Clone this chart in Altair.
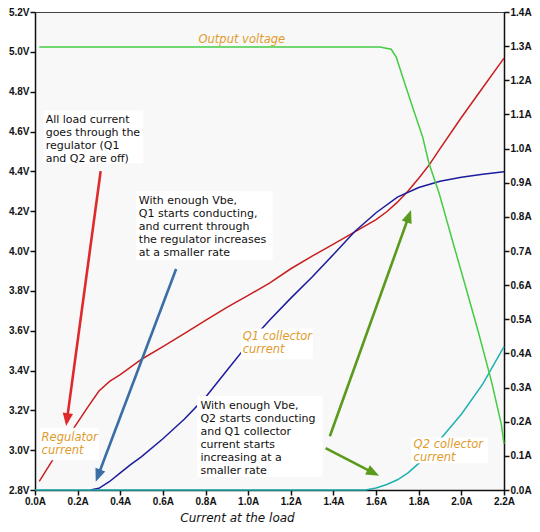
import math
import altair as alt
import pandas as pd

# ---------------- data ----------------
# Output voltage (left axis, V)
vout_load = [0.02, 1.617, 1.671, 1.695, 1.725, 1.771, 1.818, 1.848, 1.895, 1.956, 2.018, 2.079, 2.141, 2.187, 2.2]
vout_volt = [5.024, 5.024, 5.013, 4.972, 4.872, 4.723, 4.574, 4.441, 4.292, 4.06, 3.828, 3.596, 3.347, 3.132, 3.032]

# Regulator current (right axis, A)
reg_load = [0.02, 0.1, 0.185, 0.25, 0.3, 0.35, 0.4, 0.5, 0.6, 0.7, 0.8, 0.9, 1.0, 1.1, 1.2, 1.3, 1.4, 1.5,
            1.6, 1.65, 1.7, 1.75, 1.8, 1.85, 1.9, 2.0, 2.1, 2.2]
reg_amp = [0.025, 0.105, 0.184, 0.245, 0.29, 0.318, 0.338, 0.383, 0.42, 0.458, 0.497, 0.535, 0.57, 0.606,
           0.648, 0.685, 0.72, 0.756, 0.792, 0.815, 0.843, 0.876, 0.913, 0.953, 1.0, 1.091, 1.178, 1.265]

# Q1 collector current (right axis, A)
q1_load = [0.26, 0.3, 0.35, 0.4, 0.45, 0.5, 0.6, 0.7, 0.8, 0.9, 1.0, 1.1, 1.2, 1.3, 1.4, 1.5, 1.6, 1.7,
           1.8, 1.9, 2.0, 2.1, 2.2]
q1_amp = [0.0, 0.005, 0.025, 0.05, 0.075, 0.098, 0.15, 0.207, 0.272, 0.35, 0.428, 0.497, 0.562, 0.624,
          0.69, 0.757, 0.812, 0.858, 0.886, 0.904, 0.916, 0.925, 0.932]

# Q2 collector current (right axis, A)
q2_load = [0.0, 1.55, 1.6, 1.65, 1.7, 1.75, 1.8, 1.85, 1.9, 2.0, 2.1, 2.2]
q2_amp = [0.0, 0.0, 0.006, 0.016, 0.03, 0.05, 0.078, 0.112, 0.148, 0.222, 0.31, 0.42]

series_names = ["Regulator current", "Q1 collector current", "Q2 collector current"]
series_colors = ["#c81e1e", "#1c1c9c", "#1fb0b0"]

x_ticks = [0.0, 0.2, 0.4, 0.6, 0.8, 1.0, 1.2, 1.4, 1.6, 1.8, 2.0, 2.2]
v_ticks = [2.8, 3.0, 3.2, 3.4, 3.6, 3.8, 4.0, 4.2, 4.4, 4.6, 4.8, 5.0, 5.2]
a_ticks = [0.0, 0.1, 0.2, 0.3, 0.4, 0.5, 0.6, 0.7, 0.8, 0.9, 1.0, 1.1, 1.2, 1.3, 1.4]

# annotation text blocks (positions in data units: A, V)
note_text = [
    "All load current\ngoes through the\nregulator (Q1\nand Q2 are off)",
    "With enough Vbe,\nQ1 starts conducting,\nand current through\nthe regulator increases\nat a smaller rate",
    "With enough Vbe,\nQ2 starts conducting\nand Q1 collector\ncurrent starts\nincreasing at a\nsmaller rate",
]
note_x = [0.050, 0.487, 0.776]
note_v = [4.690, 4.283, 3.252]
note_box_x1 = [0.040, 0.474, 0.760]
note_box_x2 = [0.508, 1.115, 1.349]
note_box_v1 = [4.705, 4.300, 3.272]
note_box_v2 = [4.441, 3.954, 2.865]

label_text = ["Output voltage", "Regulator\ncurrent", "Q1 collector\ncurrent", "Q2 collector\ncurrent"]
label_x = [0.767, 0.031, 0.974, 1.776]
label_v = [5.091, 3.090, 3.599, 3.054]
label_box_x1 = [0.023, 0.966, 1.765]
label_box_x2 = [0.300, 1.303, 2.126]
label_box_v1 = [3.113, 3.611, 3.064]
label_box_v2 = [2.949, 3.456, 2.934]

# arrows: tail -> tip (A, V)
arrow_tail_x = [0.308, 0.662, 1.383, 1.363]
arrow_tail_v = [4.401, 3.910, 3.070, 3.010]
arrow_tip_x = [0.146, 0.285, 1.764, 1.614]
arrow_tip_v = [3.121, 2.841, 4.206, 2.871]
arrow_color = ["#de2a2a", "#3a6ea5", "#5a9a1c", "#5a9a1c"]

# ---------------- layout ----------------
W, H = 469, 478
HEAD = 13.0
SX = W / 2.2
SY = H / 2.4

x_scale = alt.Scale(domain=[0, 2.2], nice=False, zero=False)
v_scale = alt.Scale(domain=[2.8, 5.2], nice=False, zero=False)
a_scale = alt.Scale(domain=[0, 1.4], nice=False, zero=False)

# ---------------- tables ----------------
rows = []
for name, xs, ys in zip(series_names, [reg_load, q1_load, q2_load], [reg_amp, q1_amp, q2_amp]):
    for i, (a, b) in enumerate(zip(xs, ys)):
        rows.append({"load": a, "amp": b, "series": name, "idx": i})
curr_df = pd.DataFrame(rows)

volt_df = pd.DataFrame({"load": vout_load, "volt": vout_volt})

box_df = pd.DataFrame({
    "load": note_box_x1 + label_box_x1,
    "x2": note_box_x2 + label_box_x2,
    "volt": note_box_v1 + label_box_v1,
    "v2": note_box_v2 + label_box_v2,
})

note_df = pd.DataFrame({"load": note_x, "volt": note_v, "t": note_text})
label_df = pd.DataFrame({"load": label_x, "volt": label_v, "t": label_text})

arows = []
for tx, tv, px, pv, c in zip(arrow_tail_x, arrow_tail_v, arrow_tip_x, arrow_tip_v, arrow_color):
    dx = (px - tx) * SX
    dy = -(pv - tv) * SY
    L = math.hypot(dx, dy)
    ang = math.degrees(math.atan2(dx, -dy)) % 360
    f = (L - HEAD * 0.7) / L
    arows.append({"load": tx, "volt": tv, "ex": tx + (px - tx) * f, "ev": tv + (pv - tv) * f,
                  "px": px, "pv": pv, "ang": ang, "c": c})
arrow_df = pd.DataFrame(arows)

# ---------------- axes ----------------
LBL = "format(datum.value, '.1f') + '{}'"
x_axis = alt.Axis(values=x_ticks, labelExpr=LBL.format("A"),
                  title="Current at the load", titleFontStyle="italic", titleFontWeight="normal",
                  titleFontSize=12, titleFont="DejaVu Sans", titleX=202, titleY=22,
                  titleBaseline="top", titleAlign="center")
v_axis = alt.Axis(orient="left", values=v_ticks, title=None, labelExpr=LBL.format("V"))
a_axis = alt.Axis(orient="right", values=a_ticks, title=None, labelExpr=LBL.format("A"))

X = alt.X("load:Q", scale=x_scale, axis=x_axis)
YV = alt.Y("volt:Q", scale=v_scale, axis=v_axis)

# ---------------- charts ----------------
currents = alt.Chart(curr_df).mark_line(strokeWidth=1.5).encode(
    x=X,
    y=alt.Y("amp:Q", scale=a_scale, axis=a_axis),
    color=alt.Color("series:N", scale=alt.Scale(domain=series_names, range=series_colors), legend=None),
    order="idx:Q",
)

volt = alt.Chart(volt_df).mark_line(strokeWidth=1.5, color="#44cc44").encode(x=X, y=YV)

boxes = alt.Chart(box_df).mark_rect(fill="white").encode(x=X, x2="x2:Q", y=YV, y2="v2:Q")

arrow_lines = alt.Chart(arrow_df).mark_rule(strokeWidth=2.6).encode(
    x=X, x2="ex:Q", y=YV, y2="ev:Q",
    color=alt.Color("c:N", scale=None),
)

arrow_heads = alt.Chart(arrow_df).mark_point(
    shape="M0,0 L0.4,1 L-0.4,1 Z", filled=True, opacity=1, size=(2 * HEAD) ** 2, strokeWidth=0
).encode(
    x=alt.X("px:Q", scale=x_scale, axis=x_axis),
    y=alt.Y("pv:Q", scale=v_scale, axis=v_axis),
    angle=alt.Angle("ang:Q", scale=None),
    color=alt.Color("c:N", scale=None),
)

notes = alt.Chart(note_df).mark_text(
    align="left", baseline="top", lineBreak="\n", fontSize=11, lineHeight=13.1,
    font="DejaVu Sans", color="#111111"
).encode(x=X, y=YV, text="t:N")

labels = alt.Chart(label_df).mark_text(
    align="left", baseline="top", lineBreak="\n", fontSize=11.5, lineHeight=13,
    font="DejaVu Sans", fontStyle="italic", color="#e09b2d"
).encode(x=X, y=YV, text="t:N")

left_group = alt.layer(volt, boxes, arrow_lines, arrow_heads, notes, labels)

chart = alt.layer(currents, left_group).resolve_scale(y="independent").properties(
    width=W, height=H,
    padding={"left": 27, "top": 4, "right": 28, "bottom": 34},
    autosize=alt.AutoSizeParams(type="none"),
    background="white",
).configure_view(
    fill="#f8f8f8", stroke="#444444", strokeWidth=1
).configure_axis(
    grid=False, domainColor="#111111", domainWidth=1.5, tickColor="#111111", tickWidth=1.5,
    tickSize=5, labelFont="Liberation Sans", labelFontWeight="bold", labelFontSize=10,
    labelColor="#111111", labelPadding=1, titleColor="#111111",
    labelFlush=False, labelOverlap=False
)

chart.save("out.html", embed_options={"renderer": "svg", "actions": False})
